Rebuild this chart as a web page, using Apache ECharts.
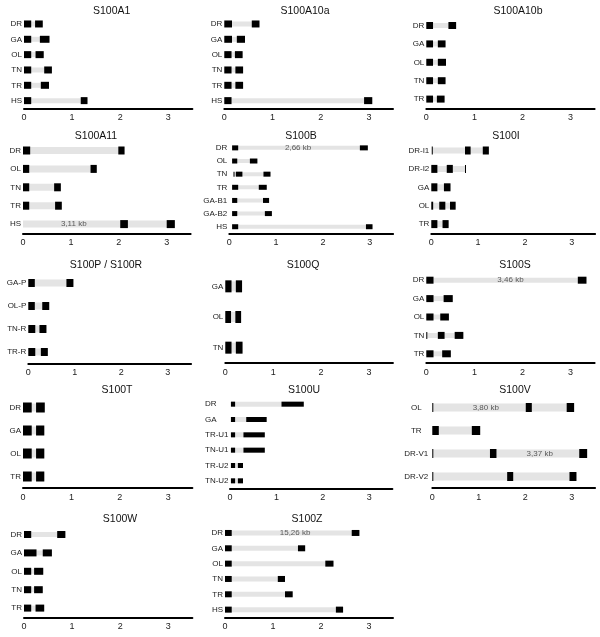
<!DOCTYPE html>
<html>
<head>
<meta charset="utf-8">
<script src="https://cdn.jsdelivr.net/npm/echarts@6/dist/echarts.min.js"></script>
<style>
html, body { margin: 0; padding: 0; background: #fff; }
#main { width: 600px; height: 637px; }
</style>
</head>
<body>
<div id="main"></div>
<script>
// each row: [label, [gene start, gene end], exons [[start, end], ...]]  values in kb
var S100A1 = [
    ['DR', [0, 0.39], [[0, 0.15], [0.23, 0.39]]],
    ['GA', [0, 0.53], [[0, 0.15], [0.33, 0.53]]],
    ['OL', [0, 0.41], [[0, 0.15], [0.24, 0.41]]],
    ['TN', [0, 0.58], [[0, 0.15], [0.42, 0.58]]],
    ['TR', [0, 0.52], [[0, 0.15], [0.35, 0.52]]],
    ['HS', [0, 1.32], [[0, 0.15], [1.18, 1.32]]]
];
var S100A10a = [
    ['DR', [0, 0.73], [[0, 0.16], [0.57, 0.73]]],
    ['GA', [0, 0.43], [[0, 0.16], [0.26, 0.43]]],
    ['OL', [0, 0.38], [[0, 0.15], [0.22, 0.38]]],
    ['TN', [0, 0.39], [[0, 0.15], [0.23, 0.39]]],
    ['TR', [0, 0.39], [[0, 0.15], [0.23, 0.39]]],
    ['HS', [0, 3.07], [[0, 0.15], [2.90, 3.07]]]
];
var S100A10b = [
    ['DR', [0, 0.62], [[0, 0.14], [0.46, 0.62]]],
    ['GA', [0, 0.40], [[0, 0.14], [0.24, 0.40]]],
    ['OL', [0, 0.41], [[0, 0.14], [0.24, 0.41]]],
    ['TN', [0, 0.40], [[0, 0.14], [0.24, 0.40]]],
    ['TR', [0, 0.38], [[0, 0.14], [0.22, 0.38]]]
];
var S100A11 = [
    ['DR', [0, 2.12], [[0, 0.15], [1.99, 2.12]]],
    ['OL', [0, 1.54], [[0, 0.13], [1.41, 1.54]]],
    ['TN', [0, 0.79], [[0, 0.13], [0.65, 0.79]]],
    ['TR', [0, 0.81], [[0, 0.13], [0.67, 0.81]]],
    ['HS', [0, 3.17], [[2.03, 2.19], [3.00, 3.17]]]
];
var S100B = [
    ['DR', [0.06, 2.96], [[0.06, 0.19], [2.79, 2.96]]],
    ['OL', [0.06, 0.60], [[0.06, 0.17], [0.44, 0.60]]],
    ['TN', [0.09, 0.88], [[0.09, 0.10], [0.14, 0.28], [0.73, 0.88]]],
    ['TR', [0.06, 0.80], [[0.06, 0.19], [0.63, 0.80]]],
    ['GA-B1', [0.06, 0.85], [[0.06, 0.17], [0.72, 0.85]]],
    ['GA-B2', [0.06, 0.91], [[0.06, 0.17], [0.76, 0.91]]],
    ['HS', [0.06, 3.06], [[0.06, 0.19], [2.92, 3.06]]]
];
var S100I = [
    ['DR-I1', [0.01, 1.23], [[0.01, 0.02], [0.72, 0.84], [1.10, 1.23]]],
    ['DR-I2', [0, 0.73], [[0, 0.13], [0.33, 0.46], [0.72, 0.73]]],
    ['GA', [0, 0.41], [[0, 0.13], [0.27, 0.41]]],
    ['OL', [0, 0.52], [[0, 0.04], [0.17, 0.30], [0.40, 0.52]]],
    ['TR', [0, 0.37], [[0, 0.13], [0.24, 0.37]]]
];
var S100PR = [
    ['GA-P', [0, 0.97], [[0, 0.14], [0.82, 0.97]]],
    ['OL-P', [0, 0.45], [[0, 0.14], [0.30, 0.45]]],
    ['TN-R', [0, 0.39], [[0, 0.15], [0.24, 0.39]]],
    ['TR-R', [0, 0.42], [[0, 0.15], [0.27, 0.42]]]
];
var S100Q = [
    ['GA', [0, 0.35], [[0, 0.13], [0.22, 0.35]]],
    ['OL', [0, 0.33], [[0, 0.12], [0.21, 0.33]]],
    ['TN', [0, 0.36], [[0, 0.13], [0.22, 0.36]]]
];
var S100S = [
    ['DR', [0, 3.33], [[0, 0.15], [3.15, 3.33]]],
    ['GA', [0, 0.55], [[0, 0.15], [0.36, 0.55]]],
    ['OL', [0, 0.47], [[0, 0.15], [0.29, 0.47]]],
    ['TN', [0, 0.77], [[0, 0.01], [0.24, 0.38], [0.59, 0.77]]],
    ['TR', [0, 0.51], [[0, 0.15], [0.33, 0.51]]]
];
var S100T = [
    ['DR', [0, 0.45], [[0, 0.18], [0.27, 0.45]]],
    ['GA', [0, 0.44], [[0, 0.18], [0.27, 0.44]]],
    ['OL', [0, 0.44], [[0, 0.18], [0.27, 0.44]]],
    ['TR', [0, 0.44], [[0, 0.18], [0.27, 0.44]]]
];
var S100U = [
    ['DR', [0.02, 1.59], [[0.02, 0.11], [1.11, 1.59]]],
    ['GA', [0.02, 0.79], [[0.02, 0.11], [0.35, 0.79]]],
    ['TR-U1', [0.02, 0.75], [[0.02, 0.11], [0.29, 0.75]]],
    ['TN-U1', [0.02, 0.75], [[0.02, 0.11], [0.29, 0.75]]],
    ['TR-U2', [0.02, 0.28], [[0.02, 0.11], [0.17, 0.28]]],
    ['TN-U2', [0.02, 0.28], [[0.02, 0.11], [0.17, 0.28]]]
];
var S100V = [
    ['OL', [0, 3.05], [[0, 0.01], [2.01, 2.14], [2.89, 3.05]]],
    ['TR', [0, 1.03], [[0, 0.14], [0.85, 1.03]]],
    ['DR-V1', [0, 3.33], [[0, 0.01], [1.24, 1.38], [3.16, 3.33]]],
    ['DR-V2', [0, 3.10], [[0, 0.01], [1.61, 1.74], [2.95, 3.10]]]
];
var S100W = [
    ['DR', [0, 0.86], [[0, 0.15], [0.69, 0.86]]],
    ['GA', [0, 0.58], [[0, 0.26], [0.39, 0.58]]],
    ['OL', [0, 0.40], [[0, 0.15], [0.21, 0.40]]],
    ['TN', [0, 0.39], [[0, 0.15], [0.21, 0.39]]],
    ['TR', [0, 0.42], [[0, 0.15], [0.24, 0.42]]]
];
var S100Z = [
    ['DR', [0, 2.80], [[0, 0.14], [2.64, 2.80]]],
    ['GA', [0, 1.67], [[0, 0.14], [1.52, 1.67]]],
    ['OL', [0, 2.26], [[0, 0.14], [2.09, 2.26]]],
    ['TN', [0, 1.25], [[0, 0.14], [1.10, 1.25]]],
    ['TR', [0, 1.41], [[0, 0.14], [1.25, 1.41]]],
    ['HS', [0, 2.46], [[0, 0.14], [2.31, 2.46]]]
];

// gene length notes: [panel, row, x position (kb), text]
var kbNotes = [
    ['S100A11', 'HS', 1.06, '3,11 kb'],
    ['S100B', 'DR', 1.47, '2,66 kb'],
    ['S100S', 'DR', 1.75, '3,46 kb'],
    ['S100V', 'OL', 1.15, '3,80 kb'],
    ['S100V', 'DR-V1', 2.31, '3,37 kb'],
    ['S100Z', 'DR', 1.46, '15,26 kb']
];

var xTicks = [0, 1, 2, 3];

// layout: origin px, px per kb, grid top, title centre, exon height, gene bar height
var panels = [
    { name: 'S100A1', rows: S100A1, x0: 24, unit: 48.1, top: 16.3, ty: 12, tx: 111.7, ex: 7, gr: 5 },
    { name: 'S100A10a', rows: S100A10a, x0: 224.3, unit: 48.2, top: 16.3, ty: 12, tx: 305, ex: 7, gr: 5 },
    { name: 'S100A10b', rows: S100A10b, x0: 426.3, unit: 48.1, top: 16.3, ty: 12, tx: 518, ex: 7, gr: 5 },
    { name: 'S100A11', rows: S100A11, x0: 23, unit: 47.9, top: 141.3, ty: 137, tx: 96, ex: 8, gr: 7 },
    { name: 'S100B', rows: S100B, x0: 229.3, unit: 46.8, top: 141.3, ty: 137, tx: 301, ex: 5, gr: 4 },
    { name: 'S100I', rows: S100I, x0: 431.3, unit: 46.8, top: 141.3, ty: 137, tx: 506, ex: 8, gr: 6 },
    { name: 'S100P / S100R', rows: S100PR, x0: 28.3, unit: 46.5, top: 271.5, ty: 265.7, tx: 106, ex: 8, gr: 7 },
    { name: 'S100Q', rows: S100Q, x0: 225.3, unit: 47.9, top: 271, ty: 265.7, tx: 303, ex: 12, gr: 10 },
    { name: 'S100S', rows: S100S, x0: 426.3, unit: 48.1, top: 271, ty: 265.7, tx: 515, ex: 7, gr: 5 },
    { name: 'S100T', rows: S100T, x0: 23, unit: 48.4, top: 396, ty: 390.7, tx: 117, ex: 10, gr: 8 },
    { name: 'S100U', rows: S100U, x0: 230, unit: 46.4, top: 396.5, ty: 390.7, tx: 304, ex: 5, gr: 5, labelAlign: 'left', labelMargin: 25 },
    { name: 'S100V', rows: S100V, x0: 432.3, unit: 46.5, top: 396, ty: 390.7, tx: 515, ex: 9, gr: 8, labelAlign: 'center', labelMargin: 16 },
    { name: 'S100W', rows: S100W, x0: 24, unit: 48.1, top: 525.3, ty: 520, tx: 120, ex: 7, gr: 5 },
    { name: 'S100Z', rows: S100Z, x0: 225, unit: 48, top: 525.3, ty: 520, tx: 307, ex: 6, gr: 5 }
];

var chart = echarts.init(document.getElementById('main'), null, { renderer: 'canvas' });

var titles = [], grids = [], xAxes = [], yAxes = [], series = [];

panels.forEach(function (p, k) {
    titles.push({
        text: p.name,
        left: p.tx,
        top: p.ty - 6,
        padding: 0,
        textAlign: 'center',
        textStyle: { fontFamily: 'Liberation Sans', fontSize: 10.5, fontWeight: 'normal', color: '#111' }
    });
    grids.push({
        left: p.x0,
        top: p.top,
        width: 3.5 * p.unit,
        height: 92,
        outerBoundsMode: 'none'
    });
    xAxes.push({
        type: 'value',
        gridIndex: k,
        min: 0,
        max: 3.5,
        interval: 1,
        splitLine: { show: false },
        axisTick: { show: false },
        axisLine: { show: true, lineStyle: { color: '#000', width: 2 } },
        axisLabel: {
            margin: 5,
            fontSize: 9,
            fontFamily: 'Liberation Sans',
            color: '#222',
            formatter: function (v) { return xTicks.indexOf(v) >= 0 ? String(v) : ''; }
        }
    });
    yAxes.push({
        type: 'category',
        gridIndex: k,
        inverse: true,
        data: p.rows.map(function (r) { return r[0]; }),
        axisLine: { show: false },
        axisTick: { show: false },
        splitLine: { show: false },
        axisLabel: {
            margin: p.labelMargin || 2,
            align: p.labelAlign || 'right',
            fontSize: 8,
            fontFamily: 'Liberation Sans',
            color: '#222'
        }
    });

    // kind 0 = gene bar, kind 1 = exon
    var items = [];
    p.rows.forEach(function (r, i) {
        items.push([i, r[1][0], r[1][1], 0]);
        r[2].forEach(function (e) {
            items.push([i, e[0], e[1], 1]);
        });
    });
    series.push({
        type: 'custom',
        xAxisIndex: k,
        yAxisIndex: k,
        silent: true,
        encode: { x: [1, 2], y: 0 },
        data: items,
        renderItem: function (params, api) {
            var kind = api.value(3);
            var a = api.coord([api.value(1), api.value(0)]);
            var b = api.coord([api.value(2), api.value(0)]);
            var h = kind ? p.ex : p.gr;
            return {
                type: 'rect',
                shape: { x: a[0], y: a[1] - h / 2, width: Math.max(b[0] - a[0], 1), height: h },
                style: { fill: kind ? '#000' : '#e4e4e4' }
            };
        }
    });

    var notes = kbNotes.filter(function (n) { return n[0] === p.name; });
    if (notes.length) {
        var labels = p.rows.map(function (r) { return r[0]; });
        series.push({
            type: 'scatter',
            xAxisIndex: k,
            yAxisIndex: k,
            silent: true,
            symbolSize: 1,
            itemStyle: { color: 'rgba(0,0,0,0)' },
            data: notes.map(function (n) {
                return { name: n[3], value: [n[2], labels.indexOf(n[1])] };
            }),
            label: {
                show: true,
                position: 'inside',
                formatter: '{b}',
                fontSize: 8,
                fontFamily: 'Liberation Sans',
                color: '#333'
            },
            labelLayout: { hideOverlap: false },
            z: 5
        });
    }
});

chart.setOption({
    animation: false,
    backgroundColor: '#fff',
    title: titles,
    grid: grids,
    xAxis: xAxes,
    yAxis: yAxes,
    series: series
});

window.addEventListener('resize', chart.resize);
</script>
</body>
</html>
